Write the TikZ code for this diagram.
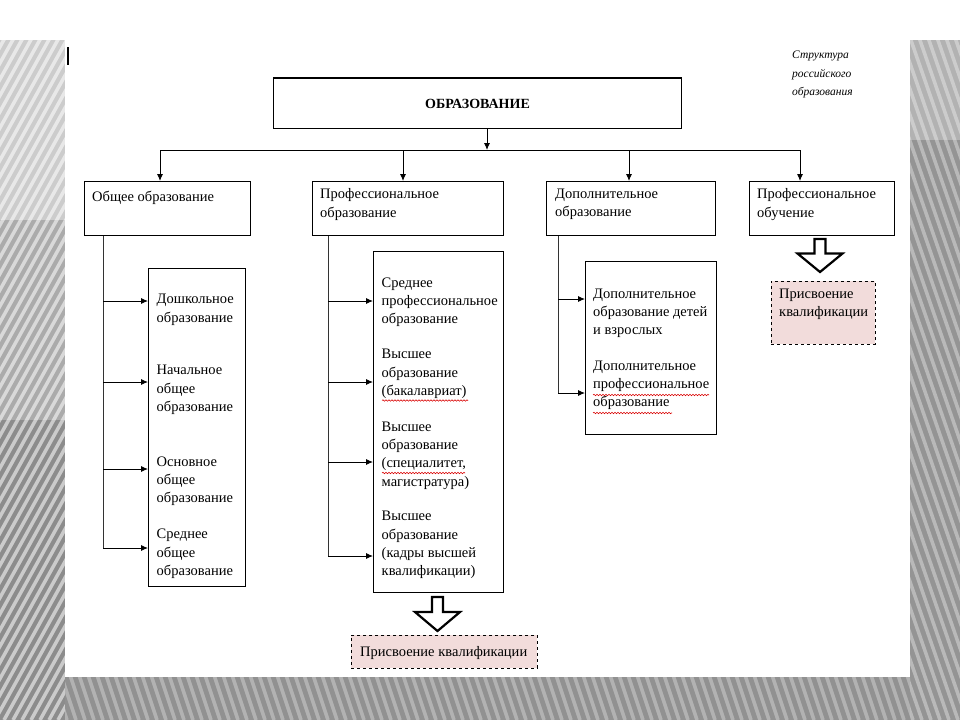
\documentclass[tikz,border=0pt]{standalone}
\usepackage{fontspec}
\setmainfont{Liberation Serif}
\usetikzlibrary{arrows.meta,decorations.pathmorphing}
\definecolor{pinkq}{HTML}{F2DCDB}
\begin{document}
\begin{tikzpicture}[x=1pt,y=-1pt,
  box/.style={draw=black, line width=1pt, fill=white, inner sep=0pt, anchor=north west},
  txt/.style={font=\fontsize{14.5}{18.3}\selectfont, align=left, inner sep=0pt, anchor=north west, execute at begin node=\strut},
  arr/.style={draw=black, line width=0.9pt, -{Latex[length=7pt,width=6pt]}},
  trunk/.style={draw=black!80, line width=1pt},
  qual/.style={draw=black, dashed, line width=0.9pt, fill=pinkq, inner sep=0pt, anchor=north west},
  blockarr/.style={draw=black, line width=2.2pt, fill=white, line join=miter},
  squig/.style={draw=red!85!black, line width=0.6pt, decorate, decoration={snake, amplitude=0.7pt, segment length=3pt}}
]
\useasboundingbox (0,0) rectangle (960,720);
% ---------- background ----------
\fill[white] (0,0) rectangle (960,720);
\begin{scope}
  \clip (0,40) rectangle (65,720);
  \fill[black!45] (0,40) rectangle (65,720);
  \fill[black!33] (0,40) rectangle (65,420);
  \fill[black!20] (0,40) rectangle (65,220);
  \foreach \i in {-500,-491,...,80} \draw[white, opacity=.55, line width=3.5pt] (\i,720) -- (\i+400,0);
\end{scope}
\begin{scope}
  \clip (910,40) rectangle (960,720);
  \fill[black!42] (910,40) rectangle (960,720);
  \fill[black!30] (910,40) rectangle (960,140);
  \foreach \i in {600,609,...,980} \draw[white, opacity=.35, line width=3.5pt] (\i,0) -- (\i+250,720);
\end{scope}
\begin{scope}
  \clip (65,677) rectangle (910,720);
  \fill[black!43] (65,677) rectangle (910,720);
  \foreach \i in {0,9,...,960} \draw[white, opacity=.3, line width=3.5pt] (\i,600) -- (\i+40,720);
\end{scope}
% cursor bar
\draw[line width=2pt] (68,47) -- (68,65);
% ---------- caption ----------
\node[font=\itshape\fontsize{11.5}{18.5}\selectfont, align=left, inner sep=0pt, anchor=north west, execute at begin node=\strut] (cap) at (792,51)
  {Структура\\российского\\образования};
% ---------- top box ----------
\node[box, minimum width=408pt, minimum height=50pt, font=\bfseries\fontsize{14}{16}\selectfont] (edu) at (273,78) {ОБРАЗОВАНИЕ};
\draw[line width=2.6pt] (edu.north west) -- (edu.north east);
% ---------- level 1 ----------
\node[box, minimum width=166pt, minimum height=54pt] (b1) at (84,181) {};
\node[box, minimum width=191pt, minimum height=54pt] (b2) at (312,181) {};
\node[box, minimum width=169pt, minimum height=54pt] (b3) at (546,181) {};
\node[box, minimum width=145pt, minimum height=54pt] (b4) at (749,181) {};
\node[txt] (t1) at (92,188.5) {Общее образование};
\node[txt] (t2) at (320,188.5) {Профессиональное\\образование};
\node[txt] (t3) at (555,188.5) {Дополнительное\\образование};
\node[txt] (t4) at (757,188.5) {Профессиональное\\обучение};
% bus
\coordinate (hub) at (487,150);
\coordinate (d1) at (160,150);
\coordinate (d2) at (403,150);
\coordinate (d3) at (629,150);
\coordinate (d4) at (800,150);
\draw[arr] (edu.south -| hub) -- (hub);
\draw[line width=0.9pt] (d1) -- (d4);
\draw[arr] (d1) -- (d1 |- b1.north);
\draw[arr] (d2) -- (d2 |- b2.north);
\draw[arr] (d3) -- (d3 |- b3.north);
\draw[arr] (d4) -- (d4 |- b4.north);
% ---------- column 1 ----------
\node[box, minimum width=97pt, minimum height=318pt] (c1) at (148,268) {};
\node[txt] (s11) at (156.5,294) {Дошкольное\\образование};
\node[txt] (s12) at (156.5,365) {Начальное\\общее\\образование};
\node[txt] (s13) at (156.5,456.5) {Основное\\общее\\образование};
\node[txt] (s14) at (156.5,529) {Среднее\\общее\\образование};
\coordinate (g11) at (103,301);
\coordinate (g12) at (103,382);
\coordinate (g13) at (103,469);
\coordinate (g14) at (103,548);
\draw[trunk] (b1.south -| g11) -- (g14);
\draw[arr] (g11) -- (g11 -| c1.west);
\draw[arr] (g12) -- (g12 -| c1.west);
\draw[arr] (g13) -- (g13 -| c1.west);
\draw[arr] (g14) -- (g14 -| c1.west);
% ---------- column 2 ----------
\node[box, minimum width=130pt, minimum height=341pt] (c2) at (373,251) {};
\node[txt] (s21) at (381.5,277.5) {Среднее\\профессиональное\\образование};
\node[txt] (s22) at (381.5,349) {Высшее\\образование\\(бакалавриат)};
\node[txt] (s23) at (381.5,421.5) {Высшее\\образование\\(специалитет,\\магистратура)};
\node[txt] (s24) at (381.5,511) {Высшее\\образование\\(кадры высшей\\квалификации)};
\coordinate (g21) at (328,301);
\coordinate (g22) at (328,382);
\coordinate (g23) at (328,462);
\coordinate (g24) at (328,556);
\draw[trunk] (b2.south -| g21) -- (g24);
\draw[arr] (g21) -- (g21 -| c2.west);
\draw[arr] (g22) -- (g22 -| c2.west);
\draw[arr] (g23) -- (g23 -| c2.west);
\draw[arr] (g24) -- (g24 -| c2.west);
\draw[squig] (382,400.5) -- (468,400.5);
\draw[squig] (382,473) -- (465,473);
% ---------- column 3 ----------
\node[box, minimum width=131pt, minimum height=173pt] (c3) at (585,261) {};
\node[txt] (s31) at (593,288.5) {Дополнительное\\образование детей\\и взрослых};
\node[txt] (s32) at (593,360.5) {Дополнительное\\профессиональное\\образование};
\coordinate (g31) at (558,299);
\coordinate (g32) at (558,393);
\draw[trunk] (b3.south -| g31) -- (g32);
\draw[arr] (g31) -- (g31 -| c3.west);
\draw[arr] (g32) -- (g32 -| c3.west);
\draw[squig] (593,395) -- (709,395);
\draw[squig] (593,413) -- (672,413);
% ---------- qualification (column 2) ----------
\node[qual, minimum width=186pt, minimum height=33pt] (q2) at (351,634.5) {};
\node[txt] (qt2) at (360,643.5) {Присвоение квалификации};
\draw[blockarr] (432,597) coordinate (a2)
  -- ++(11,0) -- ++(0,15) -- ++(17,0) -- ++(-22.5,19) -- ++(-22.5,-19) -- ++(17,0) -- cycle;
% ---------- qualification (column 4) ----------
\node[qual, minimum width=104pt, minimum height=63pt] (q4) at (770.5,281) {};
\node[txt] (qt4) at (779,289) {Присвоение\\квалификации};
\draw[blockarr] (814.5,239) coordinate (a4)
  -- ++(11,0) -- ++(0,14.5) -- ++(17,0) -- ++(-22.5,18.5) -- ++(-22.5,-18.5) -- ++(17,0) -- cycle;
\end{tikzpicture}
\end{document}
